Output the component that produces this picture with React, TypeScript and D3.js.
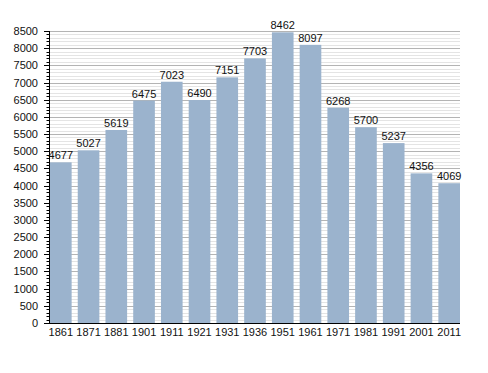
import React from "react";
import * as d3 from "d3";

const years = ["1861", "1871", "1881", "1901", "1911", "1921", "1931", "1936", "1951", "1961", "1971", "1981", "1991", "2001", "2011"];
const population = [4677, 5027, 5619, 6475, 7023, 6490, 7151, 7703, 8462, 8097, 6268, 5700, 5237, 4356, 4069];
const majorTicks = d3.range(0, 8501, 500);
const minorTicks = d3.range(0, 8501, 100);

export default function App() {
    const W = 488, H = 373;
    const left = 50, right = 460, top = 31, bottom = 323;

    const x = d3.scaleBand<string>().domain(years).range([left, right]).paddingInner(0.22).paddingOuter(0);
    const y = d3.scaleLinear().domain([0, 8500]).range([bottom, top]);

    return (
        <svg width={W} height={H} style={{ position: "absolute", left: 0, top: 0 }} fontFamily="Liberation Sans, Arial, sans-serif">
            <rect width={W} height={H} fill="#fff" />
            {/* minor grid */}
            <g stroke="#e4e4e4" strokeWidth={1}>
                {minorTicks.filter((t) => t % 500 !== 0).map((t) => (
                    <line key={t} x1={left} x2={right} y1={Math.round(y(t)) + 0.5} y2={Math.round(y(t)) + 0.5} />
                ))}
            </g>
            <g stroke="#b4b4b4" strokeWidth={1}>
                {majorTicks.filter((t) => t > 0).map((t) => (
                    <line key={t} x1={left} x2={right} y1={Math.round(y(t)) + 0.5} y2={Math.round(y(t)) + 0.5} />
                ))}
            </g>
            <g fill="#9bb3cd">
                {years.map((yr, i) => (
                    <rect key={yr} x={x(yr)} y={y(population[i])} width={x.bandwidth()} height={bottom - y(population[i])} />
                ))}
            </g>
            <g fontSize={11} textAnchor="middle" fill="#111">
                {years.map((yr, i) => (
                    <text key={yr} x={(x(yr) ?? 0) + x.bandwidth() / 2} y={y(population[i]) - 3}>{population[i]}</text>
                ))}
            </g>
            {/* y axis */}
            <g stroke="#000" strokeWidth={1}>
                <line x1={left - 0.5} x2={left - 0.5} y1={top} y2={bottom} />
                {minorTicks.map((t) => (
                    <line key={t} x1={left - (t % 500 === 0 ? 6 : 3.5)} x2={left} y1={Math.round(y(t)) + 0.5} y2={Math.round(y(t)) + 0.5} />
                ))}
                <line x1={left - 1} x2={right} y1={bottom + 0.5} y2={bottom + 0.5} />
            </g>
            <g fontSize={11} textAnchor="end" fill="#111">
                {majorTicks.map((t) => (
                    <text key={t} x={38} y={y(t) + 4}>{t}</text>
                ))}
            </g>
            <g fontSize={11} textAnchor="middle" fill="#111">
                {years.map((yr) => (
                    <text key={yr} x={(x(yr) ?? 0) + x.bandwidth() / 2} y={bottom + 13}>{yr}</text>
                ))}
            </g>
        </svg>
    );
}
